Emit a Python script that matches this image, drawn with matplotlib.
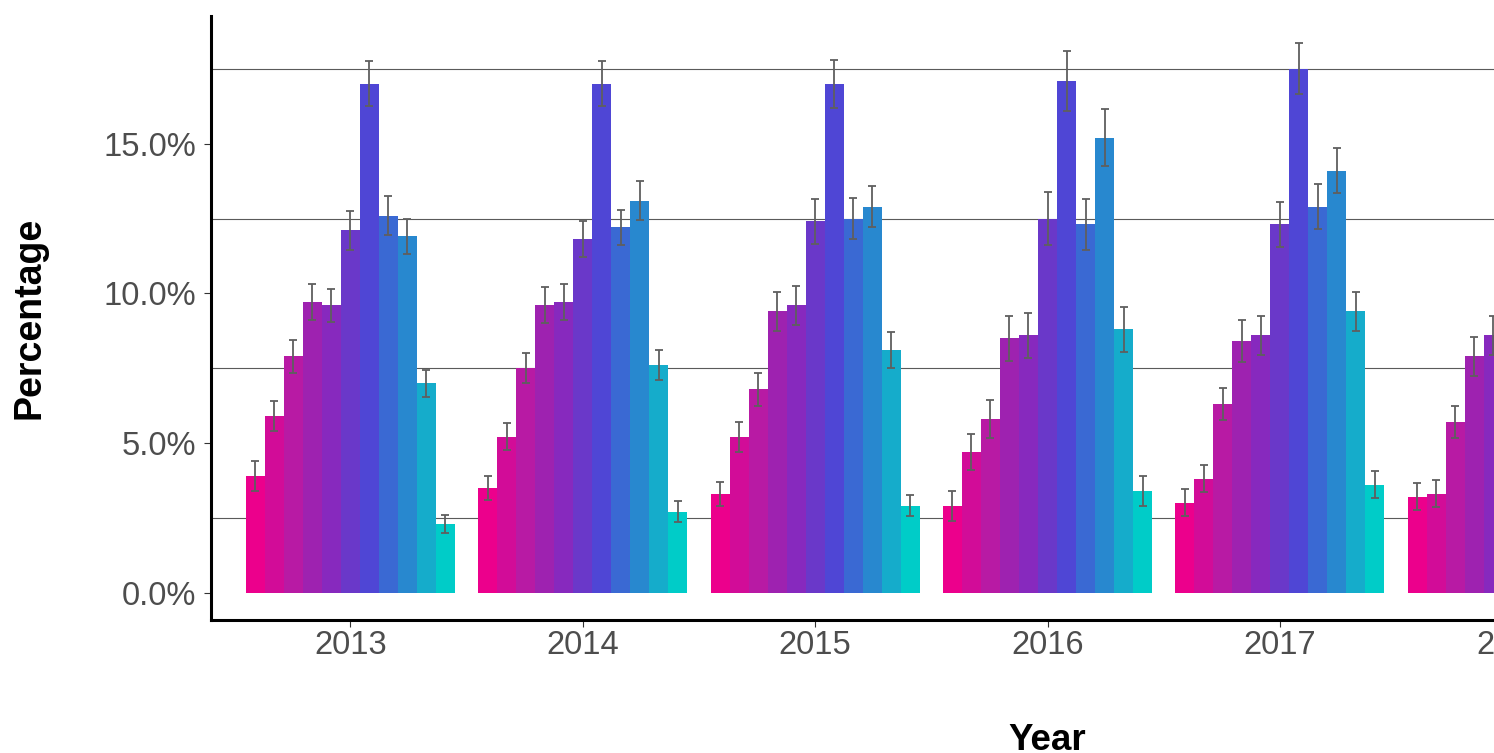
import numpy as np
import matplotlib
matplotlib.use("Agg")
import matplotlib.pyplot as plt
from matplotlib.ticker import FuncFormatter

plt.rcParams['font.family'] = ['Liberation Sans', 'DejaVu Sans']

# ---------------- data (percent) ----------------
years = [2013, 2014, 2015, 2016, 2017, 2018, 2019]
n_groups = 11
nan = np.nan

v2013 = [3.9, 5.9, 7.9, 9.7, 9.6, 12.1, 17.0, 12.6, 11.9, 7.0, 2.3]
e2013 = [0.5, 0.5, 0.55, 0.6, 0.55, 0.65, 0.75, 0.65, 0.6, 0.45, 0.3]
v2014 = [3.5, 5.2, 7.5, 9.6, 9.7, 11.8, 17.0, 12.2, 13.1, 7.6, 2.7]
e2014 = [0.4, 0.45, 0.5, 0.6, 0.6, 0.6, 0.75, 0.6, 0.65, 0.5, 0.35]
v2015 = [3.3, 5.2, 6.8, 9.4, 9.6, 12.4, 17.0, 12.5, 12.9, 8.1, 2.9]
e2015 = [0.4, 0.5, 0.55, 0.65, 0.65, 0.75, 0.8, 0.7, 0.7, 0.6, 0.35]
v2016 = [2.9, 4.7, 5.8, 8.5, 8.6, 12.5, 17.1, 12.3, 15.2, 8.8, 3.4]
e2016 = [0.5, 0.6, 0.65, 0.75, 0.75, 0.9, 1.0, 0.85, 0.95, 0.75, 0.5]
v2017 = [3.0, 3.8, 6.3, 8.4, 8.6, 12.3, 17.5, 12.9, 14.1, 9.4, 3.6]
e2017 = [0.45, 0.45, 0.55, 0.7, 0.65, 0.75, 0.85, 0.75, 0.75, 0.65, 0.45]
# 2018 only partly visible (rest cropped out of the picture)
v2018 = [3.2, 3.3, 5.7, 7.9, 8.6, nan, nan, nan, nan, nan, nan]
e2018 = [0.45, 0.45, 0.55, 0.65, 0.65, nan, nan, nan, nan, nan, nan]
v2019 = [nan] * n_groups
e2019 = [nan] * n_groups

values = np.array([v2013, v2014, v2015, v2016, v2017, v2018, v2019])
errors = np.array([e2013, e2014, e2015, e2016, e2017, e2018, e2019])

colors = ['#EC008C', '#D20C98', '#B81AA4', '#9E22B0', '#8729BE', '#6A38C9',
          '#4F46D5', '#3A69D3', '#2888CF', '#15ACCB', '#00CCC8']

y_ticks = [0, 5, 10, 15]
y_grid = [2.5, 7.5, 12.5, 17.5]

# ---------------- figure ----------------
W, H = 1494, 753
fig = plt.figure(figsize=(W / 100, H / 100), dpi=100)
ax_left, ax_right, ax_top, ax_bottom = 211, 1884, 16, 620
ax = fig.add_axes([ax_left / W, 1 - ax_bottom / H,
                   (ax_right - ax_left) / W, (ax_bottom - ax_top) / H])

dodge = 0.9
bw = dodge / n_groups
yrs = np.array(years, dtype=float)
for i in range(n_groups):
    x = yrs + (i - (n_groups - 1) / 2) * bw
    v = values[:, i]
    e = errors[:, i]
    ok = ~np.isnan(v)
    ax.bar(x[ok], v[ok], width=bw, color=colors[i], linewidth=0, zorder=2)
    ax.errorbar(x[ok], v[ok], yerr=e[ok], fmt='none', ecolor='#5F5F5F',
                elinewidth=1.3, capsize=2.6, capthick=1.3, zorder=3)

ymax = np.nanmax(values + errors)
pad = 0.05 * ymax
ax.set_ylim(-pad, ymax + pad)
ax.set_xlim(years[0] - 0.6, years[-1] + 0.6)

ax.set_yticks(y_ticks)
ax.yaxis.set_major_formatter(FuncFormatter(lambda v, p: f"{v:.1f}%"))
ax.set_yticks(y_grid, minor=True)
ax.grid(which='minor', axis='y', color='#5A5A5A', linewidth=0.8, zorder=0)
ax.grid(which='major', visible=False)
ax.set_axisbelow(True)
ax.set_xticks(years)
ax.set_xticklabels([str(y) for y in years])

for s in ['top', 'right']:
    ax.spines[s].set_visible(False)
for s in ['left', 'bottom']:
    ax.spines[s].set_linewidth(2.2)
    ax.spines[s].set_color('black')
    ax.spines[s].set_capstyle('projecting')

ax.tick_params(which='major', length=5, width=0.8, color='#333333',
               labelsize=23.5, labelcolor='#4D4D4D')
ax.tick_params(axis='y', which='major', pad=5.5)
ax.tick_params(axis='x', which='major', pad=2.5)
ax.tick_params(which='minor', length=0)

ax.set_xlabel('Year', fontsize=26.5, fontweight='bold', color='black')
ax.xaxis.label.set_va('baseline')
ax.xaxis.set_label_coords(0.5, -(750 - ax_bottom) / (ax_bottom - ax_top))

ax.set_ylabel('Percentage', fontsize=27, fontweight='bold', color='black')
ax.yaxis.label.set_va('center')
ax.yaxis.set_label_coords(-(ax_left - 29) / (ax_right - ax_left), 0.5)

fig.savefig('out.png', dpi=100)
